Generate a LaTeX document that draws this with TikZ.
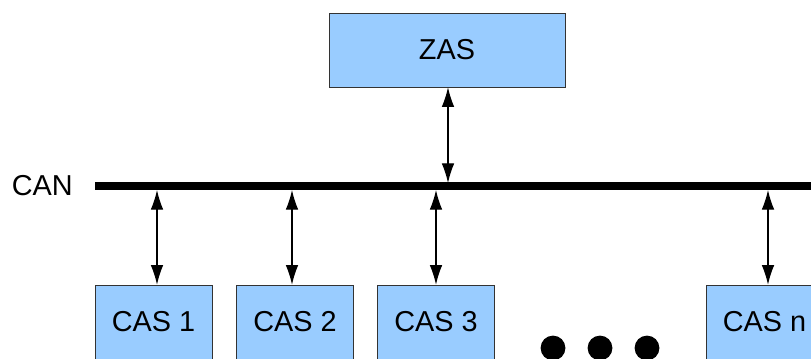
\documentclass[tikz,border=0pt]{standalone}
\usepackage{fontspec}
\setmainfont{Liberation Sans}
\usetikzlibrary{arrows.meta}
\tikzset{>={Latex[length=14pt,width=9pt]}}
\definecolor{unitblue}{RGB}{153,204,255}

\begin{document}
\begin{tikzpicture}[x=0.025cm,y=-0.025cm,
    unit/.style={draw=black!80, fill=unitblue, minimum width=2.925cm, minimum height=1.85cm, inner sep=0pt, font=\fontsize{20.5}{24}\selectfont},
    link/.style={<->, line width=0.9pt}]
      \useasboundingbox (0,0) rectangle (811,358);
      \clip (0,0) rectangle (811,358);
      % bus line
      \coordinate (busL) at (95,186);
      \coordinate (busR) at (830,186);
      \draw [line width=5pt] (busL) -- (busR);
      \node (can) at (busL) [anchor=east, inner sep=0pt, xshift=-0.55cm, font=\fontsize{20.5}{24}\selectfont]{CAN};
      % central unit
      \node (zas) at (447,50) [unit, minimum width=5.9cm]{ZAS};
      \coordinate (zastap) at (448,183);
      \draw [link] (zastap |- zas.south) -- (zastap);
      % units on the bus
      \node (cas1) at (153.5,322) [unit]{CAS 1};
      \node (cas2) at (295,322) [unit]{CAS 2};
      \node (cas3) at (436,322) [unit]{CAS 3};
      \node (casn) at (764.5,322) [unit]{CAS n};
      \foreach \n/\x in {cas1/157,cas2/292,cas3/436,casn/768}{
        \coordinate (tap) at (\x,190);
        \draw [link] (tap) -- (tap |- \n.north);
      }
      % dots between unit 3 and unit n
      \foreach \x in {553,600,647}
        \fill (\x,348) circle (0.31cm);
    \end{tikzpicture}
\end{document}
